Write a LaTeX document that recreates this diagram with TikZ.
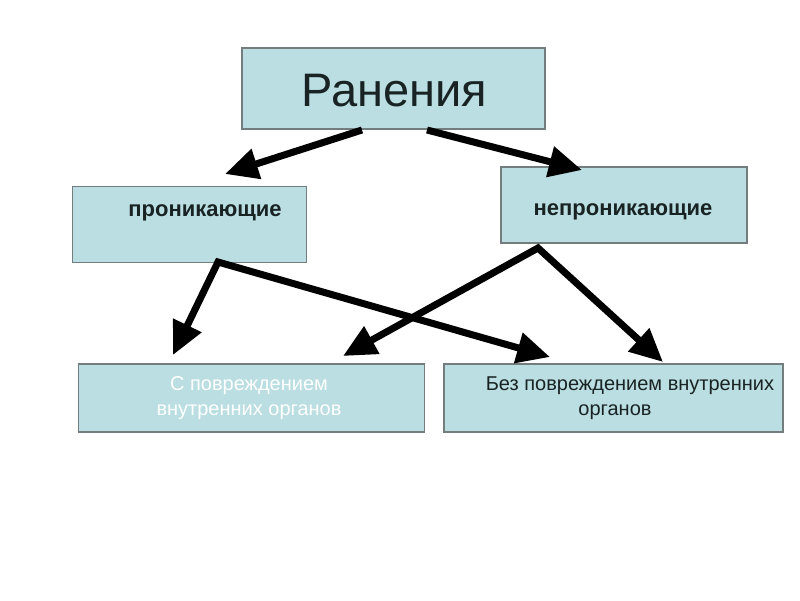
\documentclass[tikz,border=0pt]{standalone}
\usepackage{fontspec}
\setmainfont{Liberation Sans}
\usetikzlibrary{arrows.meta}
\definecolor{boxfill}{RGB}{186,222,226}
\definecolor{boxline}{RGB}{115,125,125}
\definecolor{ink}{RGB}{25,35,35}

\begin{document}
\begin{tikzpicture}[x=1pt,y=-1pt,
  box/.style={draw=boxline,fill=boxfill,line width=1.2pt,inner sep=0pt},
  arr/.style={line width=7pt,-{Triangle[length=33pt,width=30pt]}},
  twoarr/.style={line width=7pt,miter limit=20,{Triangle[length=33pt,width=30pt]}-{Triangle[length=33pt,width=30pt]}},
  lbl/.style={text=ink,inner sep=0pt}]
\useasboundingbox (0,0) rectangle (800,600);
% boxes
\node[box,minimum width=303pt,minimum height=81pt] (ran) at (393.5,88.5) {};
\node[box,minimum width=234pt,minimum height=76pt] (pron) at (189.5,224.5) {};
\node[box,minimum width=246pt,minimum height=76pt] (nepron) at (624,205) {};
\node[box,minimum width=346pt,minimum height=68pt] (s) at (251.5,398) {};
\node[box,minimum width=339pt,minimum height=68pt] (bez) at (613.5,398) {};
% texts
\node[lbl,anchor=base,font=\fontsize{47}{50}\selectfont] (tran) at (394.5,106) {Ранения};
\node[lbl,anchor=base,font=\fontsize{22}{25}\selectfont\bfseries] (tpron) at (205,216) {проникающие};
\node[lbl,anchor=base,font=\fontsize{22}{25}\selectfont\bfseries] (tnepron) at (623,215) {непроникающие};
\node[lbl,text=white,align=center,font=\fontsize{20}{25.5}\selectfont] (ts) at (249,398) {С повреждением\\внутренних органов};
\node[lbl,align=center,font=\fontsize{20}{25.5}\selectfont] (tbez) at (630,398) {Без повреждением внутренних\\органов\hspace*{30pt}};
% arrow ends
\coordinate (a1) at (362,130);
\coordinate (a2) at (427,130);
\coordinate (b1) at (225,174);
\coordinate (b2) at (582,170);
\coordinate (c) at (218,262);
\coordinate (d) at (538,248);
\coordinate (e1) at (173,355);
\coordinate (e2) at (550,357);
\coordinate (e3) at (343,356);
\coordinate (e4) at (663,362);
\draw[arr] (a1) -- (b1);
\draw[arr] (a2) -- (b2);
\draw[twoarr] (e1) -- (c) -- (e2);
\draw[twoarr] (e3) -- (d) -- (e4);
\end{tikzpicture}
\end{document}
